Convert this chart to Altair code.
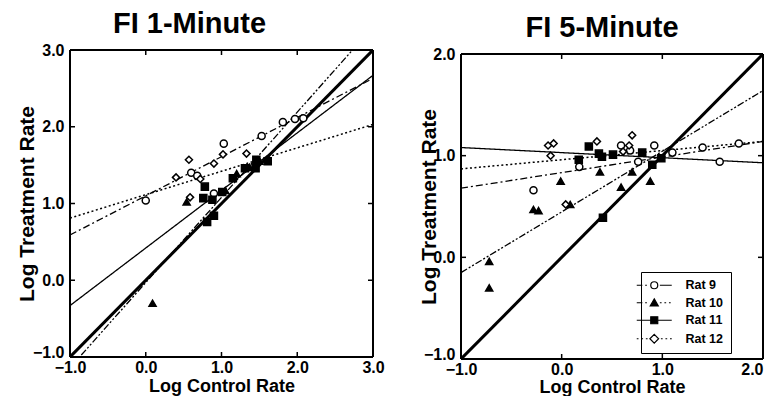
import altair as alt
import pandas as pd

FONT = "Liberation Sans"
RATS = ["Rat 9", "Rat 10", "Rat 11", "Rat 12"]

# ---------------- FI 1-Minute (left) ----------------
l9_x = [0.00, 0.60, 0.68, 0.90, 1.03, 1.53, 1.81, 1.97, 2.08]
l9_y = [1.04, 1.40, 1.36, 1.13, 1.78, 1.88, 2.06, 2.10, 2.11]
l10_x = [0.09, 0.54, 1.05, 1.20, 1.37, 1.50]
l10_y = [-0.30, 1.02, 1.17, 1.39, 1.47, 1.55]
l11_x = [0.78, 0.76, 0.88, 0.81, 0.90, 1.01, 1.15, 1.31, 1.45, 1.46, 1.61]
l11_y = [1.22, 1.07, 1.05, 0.76, 0.84, 1.15, 1.33, 1.46, 1.46, 1.57, 1.55]
l12_x = [0.40, 0.57, 0.585, 0.72, 0.90, 1.02, 1.33]
l12_y = [1.34, 1.57, 1.08, 1.32, 1.52, 1.64, 1.65]

# fitted lines (end points)
l_fit_x0 = [-1.0, -1.0, -1.0, -1.0]
l_fit_y0 = [0.59, -1.14, -0.33, 0.81]
l_fit_x1 = [3.0, 3.0, 3.0, 3.0]
l_fit_y1 = [2.63, 3.30, 2.67, 2.03]

# ---------------- FI 5-Minute (right) ----------------
r9_x = [-0.28, 0.175, 0.59, 0.68, 0.76, 0.92, 1.10, 1.40, 1.57, 1.76]
r9_y = [0.66, 0.89, 1.10, 1.05, 0.94, 1.10, 1.03, 1.08, 0.94, 1.12]
r10_x = [-0.72, -0.72, -0.28, -0.23, -0.01, 0.085, 0.38, 0.59, 0.70, 0.88]
r10_y = [-0.04, -0.30, 0.47, 0.46, 0.75, 0.52, 0.84, 0.69, 0.84, 0.75]
r11_x = [0.17, 0.27, 0.37, 0.40, 0.41, 0.51, 0.80, 0.90, 0.99]
r11_y = [0.96, 1.09, 1.02, 0.99, 0.39, 1.01, 1.03, 0.91, 0.975]
r12_x = [-0.135, -0.08, -0.11, 0.04, 0.35, 0.61, 0.67, 0.70]
r12_y = [1.10, 1.12, 1.00, 0.52, 1.14, 1.04, 1.10, 1.20]

r_fit_x0 = [-1.0, -1.0, -1.0, -1.0]
r_fit_y0 = [0.68, -0.15, 1.08, 0.87]
r_fit_x1 = [2.0, 2.0, 2.0, 2.0]
r_fit_y1 = [1.14, 1.64, 0.93, 1.14]

# styles per rat
shapes = ["circle", "triangle-up", "square", "diamond"]
filled = [False, True, True, False]
dashes = [[7, 3, 2, 3], [7, 2, 2, 2, 2, 2], [1, 0], [2, 2.5]]
widths = [1.3, 1.3, 1.3, 1.5]

legend_paths = [
    "M-5,0L-3.4,0M-2.6,0L-2.1,0M1,0A1,1,0,1,1,-1,0A1,1,0,1,1,1,0ZM1.6,0L5,0",
    "M-5,0L-3.4,0M-2.6,0L-2.1,0M0,-1.1L1.15,0.9L-1.15,0.9ZM1.6,0L2.1,0M2.9,0L3.4,0M4.2,0L4.7,0",
    "M-5,0L-1,0M-1,-1L1,-1L1,1L-1,1ZM1,0L5,0",
    "M-5,0L-4.5,0M-3.7,0L-3.2,0M-2.4,0L-1.9,0M0,-1.25L1.25,0L0,1.25L-1.25,0ZM1.9,0L2.4,0M3.2,0L3.7,0M4.5,0L5,0",
]
legend_fill = ["white", "black", "black", "white"]


def panel(title, xs, ys, fx0, fy0, fx1, fy1, dom, ticks, labels, W, H, top, toff, tdx,
          ytitle_x, xtitle_pad, legend, last_right):
    VH = H + top
    pts = pd.DataFrame(
        [dict(x=x, y=y, rat=RATS[i]) for i, (xx, yy) in enumerate(zip(xs, ys)) for x, y in zip(xx, yy)]
    )
    fits = pd.DataFrame(
        [dict(x=fx0[i], y=fy0[i], rat=RATS[i]) for i in range(4)]
        + [dict(x=fx1[i], y=fy1[i], rat=RATS[i]) for i in range(4)]
    )
    ident = pd.DataFrame({"x": [dom[0], dom[1]], "y": [dom[0], dom[1]]})
    box = pd.DataFrame({
        "x": [dom[0], dom[0], dom[0], dom[1]],
        "x2": [dom[1], dom[1], dom[0], dom[1]],
        "y": [dom[0], dom[1], dom[0], dom[0]],
        "y2": [dom[0], dom[1], dom[1], dom[1]],
    })
    tk = pd.DataFrame({"v": ticks})

    xsc = alt.Scale(domain=dom, nice=False, zero=False)
    ysc = alt.Scale(domain=dom, nice=False, zero=False, range=[VH, top])
    xlabel_align = "center"
    if last_right:
        xlabel_align = alt.condition(f"datum.value >= {dom[1]}", alt.value("right"), alt.value("center"))
    ylabel_base = alt.condition(f"datum.value <= {dom[0]}", alt.value("alphabetic"), alt.value("middle"))
    xax = alt.Axis(values=labels, format=".1f", domain=False, ticks=False, grid=False,
                   labelFont=FONT, labelFontWeight="bold", labelFontSize=16, labelColor="black",
                   labelPadding=2, labelAlign=xlabel_align,
                   title="Log Control Rate", titleFont=FONT, titleFontSize=18,
                   titleFontWeight="bold", titleColor="black", titlePadding=xtitle_pad,
                   labelFlush=False)
    yax = alt.Axis(values=labels, format=".1f", domain=False, ticks=False, grid=False,
                   labelFont=FONT, labelFontWeight="bold", labelFontSize=16, labelColor="black",
                   labelPadding=6, labelBaseline=ylabel_base,
                   title="Log Treatment Rate", titleFont=FONT, titleFontSize=21,
                   titleFontWeight="bold", titleColor="black", titleX=ytitle_x, labelFlush=False)

    X = alt.X("x:Q", scale=xsc, axis=xax)
    Y = alt.Y("y:Q", scale=ysc, axis=yax)

    layers = []
    layers.append(alt.Chart(ident).mark_line(color="black", strokeWidth=3, clip=True).encode(x=X, y=Y))
    layers.append(alt.Chart(box).mark_rule(color="black", strokeWidth=2)
                  .encode(x="x:Q", x2="x2", y="y:Q", y2="y2"))
    for i, r in enumerate(RATS):
        layers.append(
            alt.Chart(fits).transform_filter(alt.datum.rat == r)
            .mark_line(color="black", strokeWidth=widths[i], strokeDash=dashes[i], clip=True)
            .encode(x="x:Q", y="y:Q")
        )
    for i, r in enumerate(RATS):
        layers.append(
            alt.Chart(pts).transform_filter(alt.datum.rat == r)
            .mark_point(shape=shapes[i], filled=True, size=50,
                        fill="black" if filled[i] else "white", stroke="black",
                        strokeWidth=1.5, opacity=1, clip=True)
            .encode(x="x:Q", y="y:Q")
        )
    # inward ticks on all four sides
    layers.append(alt.Chart(tk).mark_rule(color="black", strokeWidth=1.5)
                  .encode(x="v:Q", y=alt.value(VH), y2=alt.value(VH - 5)))
    layers.append(alt.Chart(tk).mark_rule(color="black", strokeWidth=1.5)
                  .encode(x="v:Q", y=alt.value(top), y2=alt.value(top + 5)))
    layers.append(alt.Chart(tk).mark_rule(color="black", strokeWidth=1.5)
                  .encode(y="v:Q", x=alt.value(0), x2=alt.value(5)))
    layers.append(alt.Chart(tk).mark_rule(color="black", strokeWidth=1.5)
                  .encode(y="v:Q", x=alt.value(W), x2=alt.value(W - 5)))

    if legend:
        leg = pd.DataFrame({"key": RATS, "x": [dom[0] - 5] * 4, "y": [dom[0] - 5] * 4})
        lg = alt.Legend(title=None, orient="none", legendX=180, legendY=222,
                        strokeColor="black", fillColor="white", padding=7,
                        labelFont=FONT, labelFontWeight="bold", labelFontSize=12.5,
                        labelColor="black", labelOffset=25, rowPadding=4.5,
                        symbolSize=49, symbolStrokeWidth=1.2, symbolStrokeColor="black",
                        symbolOpacity=1)
        layers.append(
            alt.Chart(leg).mark_point(filled=True, strokeWidth=1.2, size=49, opacity=1, clip=True)
            .encode(
                x="x:Q", y="y:Q",
                shape=alt.Shape("key:N", scale=alt.Scale(domain=RATS, range=legend_paths), legend=lg),
                fill=alt.Fill("key:N", scale=alt.Scale(domain=RATS, range=legend_fill), legend=lg),
                stroke=alt.Stroke("key:N", scale=alt.Scale(domain=RATS, range=["black"] * 4), legend=lg),
            )
        )

    return alt.layer(*layers).properties(
        width=W, height=VH,
        title=alt.TitleParams(title, font=FONT, fontSize=29, fontWeight="bold", color="black",
                              anchor="middle", offset=toff, dx=tdx),
    )


left = panel("FI 1-Minute", [l9_x, l10_x, l11_x, l12_x], [l9_y, l10_y, l11_y, l12_y],
             l_fit_x0, l_fit_y0, l_fit_x1, l_fit_y1, [-1, 3], [0, 1, 2], [-1, 0, 1, 2, 3],
             303, 307, 0, 3, -32, -33, 2, False, False)
right = panel("FI 5-Minute", [r9_x, r10_x, r11_x, r12_x], [r9_y, r10_y, r11_y, r12_y],
              r_fit_x0, r_fit_y0, r_fit_x1, r_fit_y1, [-1, 2], [0, 1], [-1, 0, 1, 2],
              302, 305, 4, 3, -10, -22, 1, True, True)

chart = alt.hconcat(left, right, spacing=33).resolve_legend(
    shape="independent", fill="independent", stroke="independent"
).configure_view(stroke=None).properties(
    padding={"left": 8, "top": 2, "right": 0, "bottom": 0}
)

chart.save("out.html", embed_options={"renderer": "svg", "actions": False})
